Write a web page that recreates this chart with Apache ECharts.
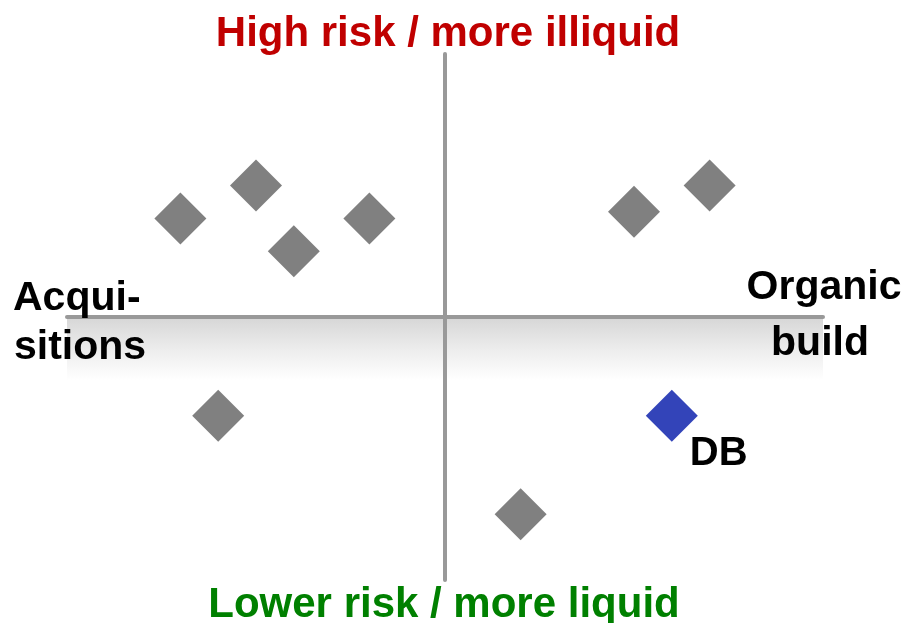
<!DOCTYPE html>
<html>
<head>
<meta charset="utf-8">
<script src="https://cdn.jsdelivr.net/npm/echarts@6/dist/echarts.min.js"></script>
<style>
  html, body { margin: 0; padding: 0; background: #ffffff; }
  #chart { width: 906px; height: 623px; }
</style>
</head>
<body>
<div id="chart"></div>
<script>
// Positioning of players: x = acquisitions (-) vs organic build (+),
// y = lower risk / more liquid (-) vs high risk / more illiquid (+)
const peerX = [-7, -5, -4, -2, 5, 7, -6, 2];
const peerY = [3.75, 5, 2.5, 3.75, 4, 5, -3.75, -7.5];
const dbName = 'DB';
const dbX = [6];
const dbY = [-3.75];

const topLabel = 'High risk / more illiquid';
const bottomLabel = 'Lower risk / more liquid';
const leftLabel = ['Acqui-', 'sitions'];
const rightLabel = ['Organic', 'build'];

const FONT = '"Liberation Sans", Arial, Helvetica, sans-serif';
const AXIS_COLOR = '#999999';

const peerData = peerX.map((x, i) => [x, peerY[i]]);
const dbData = dbX.map((x, i) => [x, dbY[i]]);

const chart = echarts.init(document.getElementById('chart'), null, { renderer: 'canvas' });

function txt(text, x, y, color, align, size) {
  return {
    type: 'text',
    x: x, y: y, z: 10,
    style: {
      text: text,
      fill: color,
      fontFamily: FONT,
      fontWeight: 'bold',
      fontSize: size,
      align: align,
      verticalAlign: 'middle'
    }
  };
}

const option = {
  backgroundColor: '#ffffff',
  animation: false,
  grid: { left: 67, right: 83, top: 54, bottom: 43 },
  xAxis: {
    type: 'value', min: -10, max: 10, z: 5,
    axisLine: { onZero: true, lineStyle: { color: AXIS_COLOR, width: 4 } },
    axisTick: { show: false }, axisLabel: { show: false }, splitLine: { show: false }
  },
  yAxis: {
    type: 'value', min: -10, max: 10, z: 5,
    axisLine: { onZero: true, lineStyle: { color: AXIS_COLOR, width: 4 } },
    axisTick: { show: false }, axisLabel: { show: false }, splitLine: { show: false }
  },
  series: [
    {
      name: 'Peers',
      type: 'scatter',
      symbol: 'diamond',
      symbolSize: 52,
      itemStyle: { color: '#808080', opacity: 1 },
      emphasis: { disabled: true },
      data: peerData,
      markArea: {
        silent: true,
        itemStyle: {
          opacity: 1,
          color: new echarts.graphic.LinearGradient(0, 0, 0, 1, [
            { offset: 0, color: '#d6d6d6' },
            { offset: 0.5, color: '#ececec' },
            { offset: 1, color: '#ffffff' }
          ])
        },
        data: [[{ xAxis: -10, yAxis: 0 }, { xAxis: 10, yAxis: -2.4 }]]
      }
    },
    {
      name: dbName,
      type: 'scatter',
      symbol: 'diamond',
      symbolSize: 52,
      itemStyle: { color: '#3344b9', opacity: 1 },
      emphasis: { disabled: true },
      data: dbData,
      label: {
        show: true,
        formatter: dbName,
        position: [44, 64],
        align: 'left',
        verticalAlign: 'middle',
        color: '#000000',
        opacity: 1,
        fontFamily: FONT,
        fontWeight: 'bold',
        fontSize: 40
      }
    }
  ],
  graphic: [
    txt(topLabel, 448, 34, '#c00000', 'center', 42),
    txt(bottomLabel, 444, 605, '#008000', 'center', 42),
    txt(leftLabel[0], 13, 299, '#000000', 'left', 41),
    txt(leftLabel[1], 14, 348, '#000000', 'left', 41),
    txt(rightLabel[0], 824, 288, '#000000', 'center', 41),
    txt(rightLabel[1], 820, 344, '#000000', 'center', 41)
  ]
};

chart.setOption(option);
</script>
</body>
</html>
